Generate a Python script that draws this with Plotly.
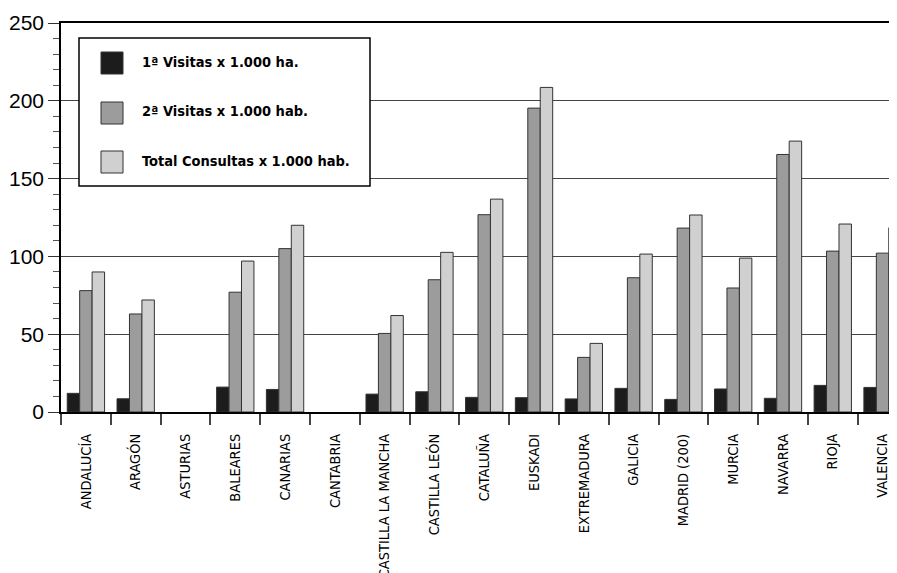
import plotly.graph_objects as go

categories = ["ANDALUCÍA", "ARAGÓN", "ASTURIAS", "BALEARES", "CANARIAS", "CANTABRIA",
              "CASTILLA LA MANCHA", "CASTILLA LEÓN", "CATALUÑA", "EUSKADI", "EXTREMADURA",
              "GALICIA", "MADRID (200)", "MURCIA", "NAVARRA", "RIOJA", "VALENCIA"]
primeras = [12, 8.5, None, 16, 14.5, None, 11.5, 13, 9.4, 9.2, 8.4, 15.2, 8.1, 14.8, 8.8, 17.1, 15.8]
segundas = [78, 63, None, 77, 105, None, 50.5, 85, 126.8, 195.3, 35.1, 86.3, 118.2, 79.7, 165.5, 103.4, 102.1]
totales = [90, 72, None, 97, 120, None, 62, 102.6, 136.8, 208.6, 44.1, 101.5, 126.6, 98.9, 174.1, 120.8, 118.4]
series_names = ["1ª Visitas x 1.000 ha.", "2ª Visitas x 1.000 hab.", "Total Consultas x 1.000 hab."]
series_colors = ["#1c1c1c", "#9c9c9c", "#d0d0d0"]

# page body has an 8px margin; figure sized so it ends at the window edge
OFF = 8
W, H = 897 - OFF, 573 - OFF
ML, MR, MT, MB = 61 - OFF, 0, 23 - OFF, 161
PW, PH = W - ML - MR, H - MT - MB

def px_x(p):
    return (p - OFF - ML) / PW

def px_y(p):
    return (H - MB - (p - OFF)) / PH

COND = "DejaVu Sans Condensed, sans-serif"

fig = go.Figure()
for name, vals, col in zip(series_names, [primeras, segundas, totales], series_colors):
    fig.add_trace(go.Bar(x=categories, y=vals, name=name, marker_color=col,
                         marker_line=dict(color="#333333", width=1), showlegend=False))

shapes = [dict(type="rect", xref="paper", yref="paper", layer="above",
               x0=px_x(79), x1=px_x(370), y0=px_y(186), y1=px_y(38),
               line=dict(color="black", width=1.5), fillcolor="white")]
annotations = []
sw_y = [52, 102, 151]
txt_y = [62, 111, 161]
for name, col, sy, ty in zip(series_names, series_colors, sw_y, txt_y):
    shapes.append(dict(type="rect", xref="paper", yref="paper", layer="above",
                       x0=px_x(101), x1=px_x(123), y0=px_y(sy + 22), y1=px_y(sy),
                       line=dict(color="#333333", width=1), fillcolor=col))
    annotations.append(dict(xref="paper", yref="paper", x=px_x(140), y=px_y(ty),
                            xanchor="left", yanchor="middle", showarrow=False, text=name,
                            font=dict(family=COND, size=14.5, color="black", weight="bold")))

fig.update_layout(
    width=W, height=H, autosize=False,
    margin=dict(l=ML, r=MR, t=MT, b=MB, pad=0),
    paper_bgcolor="white", plot_bgcolor="white",
    barmode="group", bargap=0.25, bargroupgap=0,
    shapes=shapes, annotations=annotations,
    xaxis=dict(type="category", range=[-0.5, 16.29], tickangle=-90, automargin=False,
               tickson="boundaries", ticks="outside", ticklen=11, tickwidth=1.5,
               tickcolor="#444444", showline=True, linecolor="black", linewidth=2,
               mirror=True, showgrid=False, zeroline=False,
               tickfont=dict(family=COND, size=14.5, color="black"), ticklabelstandoff=14),
    yaxis=dict(range=[0, 250], dtick=50, ticks="outside", ticklen=11, tickwidth=1,
               automargin=False,
               tickcolor="#333333", showline=True, linecolor="black", linewidth=1.5,
               showgrid=True, gridcolor="#444444", gridwidth=1, zeroline=False,
               minor=dict(dtick=10, ticks="outside", ticklen=6, tickcolor="#555555",
                          tickwidth=1, showgrid=False),
               tickfont=dict(family="Liberation Sans, Arial, sans-serif", size=21, color="black")),
)

fig.write_html("out.html")
